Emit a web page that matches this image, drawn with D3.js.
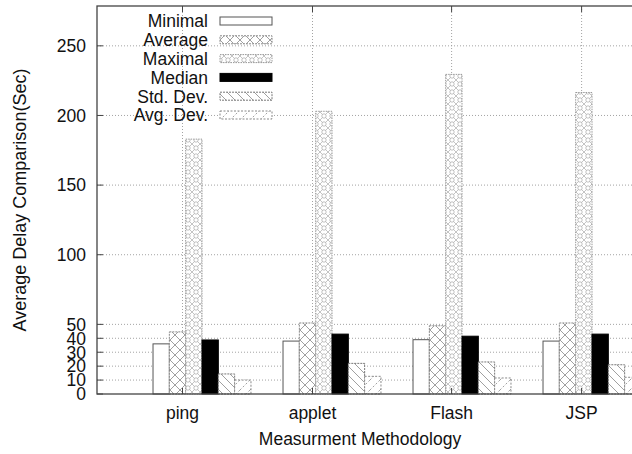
<!DOCTYPE html>
<html><head><meta charset="utf-8">
<script src="https://cdn.jsdelivr.net/npm/d3@7"></script>
<style>body{margin:0;background:#fff}svg{display:block}text{font-family:"Liberation Sans",Arial,sans-serif;fill:#111}</style>
</head><body><svg id="c" width="632" height="454"></svg>
<script>
const categories = ["ping","applet","Flash","JSP"];
const seriesNames = ["Minimal","Average","Maximal","Median","Std. Dev.","Avg. Dev."];
const minimal = [36, 38, 39, 38];
const average = [44.6, 51, 49, 51];
const maximal = [183, 203, 229.5, 216.5];
const median  = [38.8, 43, 41.5, 43];
const stdDev  = [14.4, 22, 23, 21];
const avgDev  = [10, 12.7, 11.5, 12];
const yTicks = [0,10,20,30,40,50,100,150,200,250];
const xTickPos = [-0.15, 0.85, 1.92, 2.92];

const series = [minimal, average, maximal, median, stdDev, avgDev];
const svg = d3.select("#c");
const L=97, T=6, R=650, B=394;
const FS = 17.5;
const y = d3.scaleLinear().domain([0,278.6]).range([B,T]);
const x = d3.scaleLinear().domain([0,1]).range([202,332]);
const bw = x(0.1256)-x(0);

const defs = svg.append("defs");
function pat(id, w, h, draw){
  const p = defs.append("pattern").attr("id",id).attr("patternUnits","userSpaceOnUse").attr("width",w).attr("height",h);
  p.append("rect").attr("width",w).attr("height",h).attr("fill","#fff");
  draw(p);
}
pat("pAvg",10,10,p=>{
  p.append("path").attr("d","M0,0L10,10M10,0L0,10M-1,9L1,11M9,-1L11,1").attr("stroke","#888").attr("stroke-width",0.8).attr("fill","none");
});
pat("pMax",8,8,p=>{
  p.append("path").attr("d","M0,0L8,8M8,0L0,8").attr("stroke","#aaa").attr("stroke-width",0.7).attr("fill","none");
  p.append("circle").attr("cx",4).attr("cy",4).attr("r",2.2).attr("stroke","#999").attr("stroke-width",0.6).attr("fill","#fff");
});
pat("pStd",9,9,p=>{
  p.append("path").attr("d","M0,0L9,9M-1,8L1,10M8,-1L10,1").attr("stroke","#888").attr("stroke-width",0.8).attr("fill","none");
});
pat("pAdv",10,10,p=>{
  p.append("path").attr("d","M0,10L10,0M-1,1L1,-1M9,11L11,9").attr("stroke","#888").attr("stroke-width",0.8).attr("stroke-dasharray","2,2").attr("fill","none");
});
const fills = ["#fff","url(#pAvg)","url(#pMax)","#000","url(#pStd)","url(#pAdv)"];
const strokes = ["#555","#888","#999","#000","#777","#888"];
const dashes = [null,"2,1","1.5,1",null,"2,1","2,1.5"];

// gridlines
const grid = svg.append("g");
yTicks.filter(v=>v>0).forEach(v=>{
  grid.append("line").attr("x1",L).attr("x2",R).attr("y1",y(v)).attr("y2",y(v))
    .attr("stroke","#999").attr("stroke-width",0.9).attr("stroke-dasharray","1,2");
});
xTickPos.forEach(p=>{
  grid.append("line").attr("x1",x(p)).attr("x2",x(p)).attr("y1",T).attr("y2",B)
    .attr("stroke","#999").attr("stroke-width",0.9).attr("stroke-dasharray","1,2");
});

// bars
const bars = svg.append("g");
series.forEach((s,j)=>{
  bars.selectAll(null).data(s).enter().append("rect")
    .attr("x",(d,i)=>x(i)+(j-3)*bw)
    .attr("y",d=>y(d)).attr("width",bw).attr("height",d=>y(0)-y(d))
    .attr("fill",fills[j]).attr("stroke",strokes[j]).attr("stroke-width",1)
    .attr("stroke-dasharray",dashes[j]);
});

// frame
svg.append("rect").attr("x",L).attr("y",T).attr("width",R-L).attr("height",B-T)
  .attr("fill","none").attr("stroke","#444").attr("stroke-width",1.3);

// y axis ticks & labels
yTicks.forEach(v=>{
  svg.append("line").attr("x1",L).attr("x2",L+6).attr("y1",y(v)).attr("y2",y(v)).attr("stroke","#444");
  svg.append("text").attr("x",86).attr("y",y(v)).attr("dy","0.36em").attr("text-anchor","end")
    .attr("font-size",FS).text(v);
});
// x ticks & labels
xTickPos.forEach((p,i)=>{
  svg.append("line").attr("x1",x(p)).attr("x2",x(p)).attr("y1",T).attr("y2",T+6).attr("stroke","#444");
  svg.append("line").attr("x1",x(p)).attr("x2",x(p)).attr("y1",B).attr("y2",B-6).attr("stroke","#444");
  svg.append("text").attr("x",x(p)).attr("y",419).attr("text-anchor","middle").attr("font-size",FS).text(categories[i]);
});
svg.append("text").attr("x",360).attr("y",445).attr("text-anchor","middle").attr("font-size",FS).text("Measurment Methodology");
svg.append("text").attr("transform","translate(26,200) rotate(-90)").attr("text-anchor","middle").attr("font-size",18).text("Average Delay Comparison(Sec)");

// legend
const lg = svg.append("g");
seriesNames.forEach((n,j)=>{
  const cy = 21 + j*18.8;
  lg.append("text").attr("x",208).attr("y",cy).attr("dy","0.36em").attr("text-anchor","end").attr("font-size",FS).text(n);
  lg.append("rect").attr("x",220).attr("y",cy-4).attr("width",52).attr("height",8)
    .attr("fill",fills[j]).attr("stroke",strokes[j]).attr("stroke-width",1).attr("stroke-dasharray",dashes[j]);
});
</script></body></html>
